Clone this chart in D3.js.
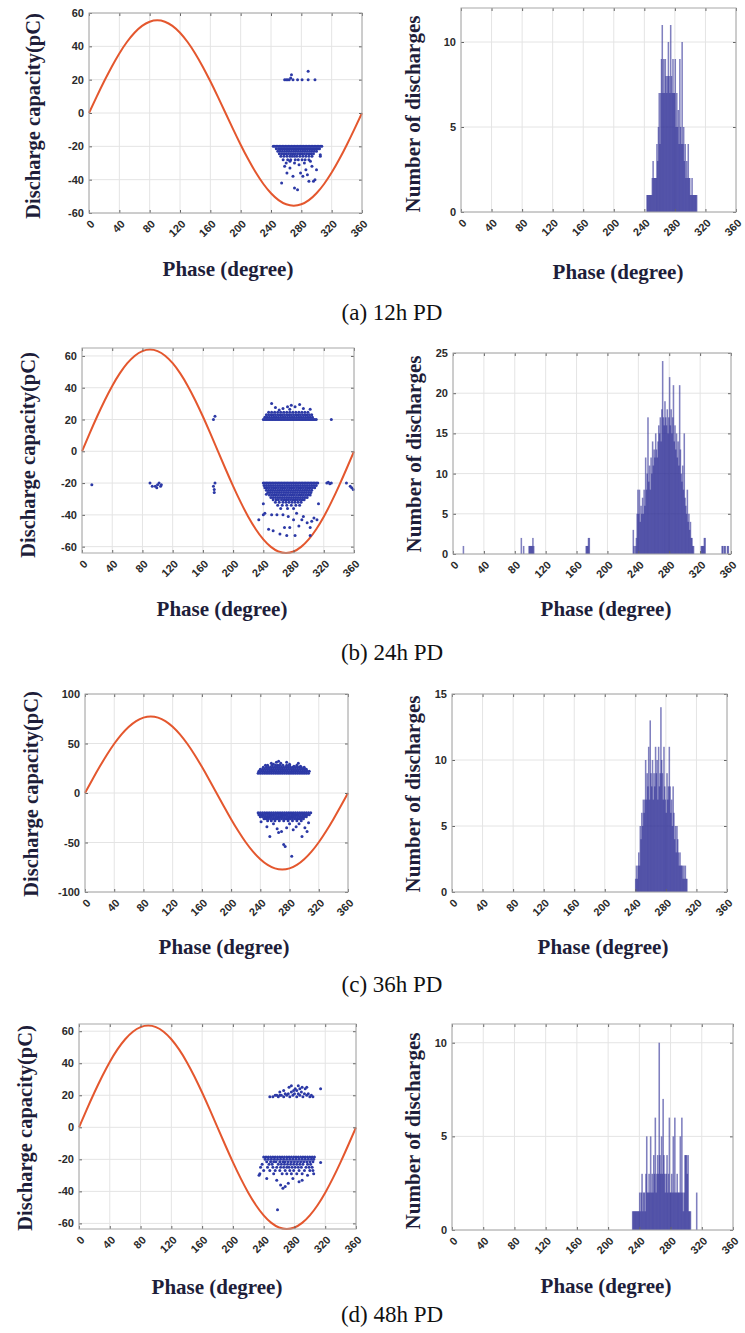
<!DOCTYPE html>
<html>
<head>
<meta charset="utf-8">
<script src="https://cdn.jsdelivr.net/npm/d3@7"></script>
<style>
body { margin: 0; background: #fff; }
</style>
</head>
<body>
<div id="fig"></div>
<script>
// ---------- data ----------
var phaseTicks = [0, 40, 80, 120, 160, 200, 240, 280, 320, 360];
var captions = ['(a) 12h PD', '(b) 24h PD', '(c) 36h PD', '(d) 48h PD'];

// supply voltage waveform, read every 10 degrees (unit amplitude)
var wavePhase = [0,10,20,30,40,50,60,70,80,90,100,110,120,130,140,150,160,170,180,
                 190,200,210,220,230,240,250,260,270,280,290,300,310,320,330,340,350,360];
var waveUnit = [0,0.174,0.342,0.5,0.643,0.766,0.866,0.94,0.985,1,0.985,0.94,0.866,0.766,0.643,0.5,0.342,0.174,0,
                -0.174,-0.342,-0.5,-0.643,-0.766,-0.866,-0.94,-0.985,-1,-0.985,-0.94,-0.866,-0.766,-0.643,-0.5,-0.342,-0.174,0];
var waveAmp = [55.6, 64, 77.3, 63.5];

var qDomain = [[-60, 60], [-64, 65], [-100, 100], [-63.5, 64.5]];
var qTicks = [[-60,-40,-20,0,20,40,60], [-60,-40,-20,0,20,40,60], [-100,-50,0,50,100], [-60,-40,-20,0,20,40,60]];
var countMax = [12, 25, 15, 11];
var countTicks = [[0,5,10], [0,5,10,15,20,25], [0,5,10,15], [0,5,10]];

// dense rows of discharges: [pC, phases]
var bandsA = [
  [-20, [243,245,247,249,251,253,255,257,259,261,263,265,267,269,271,273,275,277,279,281,283,285,287,289,291,293,295,297,299,301,303,305,307]],
  [-21.5, [247,250,252,254,256,258,260,262,264,266,268,270,272,274,276,278,280,282,284,286,288,290,292,294,296,298,300,302,304]],
  [-23, [249,252,255,258,261,264,267,270,273,276,279,282,285,288,291,294,297,300]],
  [-24.5, [251,254,257,260,263,266,269,272,275,278,281,284,287,290,293,296]],
  [-26, [253,257,261,265,268,271,274,278,282,286,290,294,305]],
  [-28, [256,262,266,272,276,281,285,290]]
];
var dotsA = [[258,20],[260,20],[262,20],[264,20],[266,21],[267,23],[269,20],[275,20],[281,20],[289,20],[289,25],[298,20],
  [254,-42],[258,-32],[261,-36],[265,-33],[269,-38],[271,-45],[275,-46],[271,-30],[277,-31],[279,-36],[282,-38],[286,-34],
  [288,-37],[290,-41],[296,-41],[298,-40],[300,-34],[294,-32],[305,-25],[265,-29],[260,-30],[284,-30],[292,-29]];

var bandsB = [
  [20, [240,242,244,246,248,250,252,254,256,258,260,262,264,266,268,270,272,274,276,278,280,282,284,286,288,290,292,294,296,298,300,302,304,306,308,310]],
  [21.5, [242,245,248,251,254,257,260,263,266,269,272,275,278,281,284,287,290,293,296,299,302,305]],
  [23, [244,247,250,253,256,259,262,265,268,271,274,277,280,283,286,289,292,295,298,301,304]],
  [24.5, [247,251,255,259,263,267,271,275,279,283,287,291,295,299]],
  [-20, [240,242,244,246,248,250,252,254,256,258,260,262,264,266,268,270,272,274,276,278,280,282,284,286,288,290,292,294,296,298,300,302,304,306,308,310,312]],
  [-21.5, [241,244,247,250,253,256,259,262,265,268,271,274,277,280,283,286,289,292,295,298,301,304,307,310]],
  [-23, [242,245,248,251,254,257,260,263,266,269,272,275,278,281,284,287,290,293,296,299,302,305,308]],
  [-24.5, [244,247,250,253,256,259,262,265,268,271,274,277,280,283,286,289,292,295,298,301,304]],
  [-26, [246,249,252,255,258,261,264,267,270,273,276,279,282,285,288,291,294,297,300,303]],
  [-27.5, [248,251,254,257,260,263,266,269,272,275,278,281,284,287,290,293,296,299,302]],
  [-29, [250,253,256,259,262,265,268,271,274,277,280,283,286,289,292,295,298]],
  [-30.5, [253,257,260,264,267,270,273,276,279,282,285,288,291,294]],
  [-32, [256,261,266,270,274,278,282,286,290]],
  [-34, [259,265,271,277,283,288]],
  [-36, [263,272,280]]
];
var dotsB = [[251,30],[256,27.5],[272,28],[277,29],[282,28],[288,29.5],[302,26.5],[275,26.5],[261,26],[266,27],[293,27],
  [330,20],[174,20],[176,22],
  [234,-43],[240,-33],[240,-40],[242,-39],[244,-27],[247,-49],[251,-40],[253,-50],[258,-40],[262,-52],[266,-40],[268,-48],
  [271,-53],[273,-41],[275,-48],[280,-43],[282,-53],[284,-39],[287,-47],[291,-43],[293,-41],[298,-45],[302,-48],[302,-53],
  [304,-44],[307,-42],[311,-43],[313,-33],
  [13,-21],[90,-20],[93,-22],[97,-22],[99,-23],[100,-21],[102,-20],[104,-22],[105,-21],
  [174,-22],[175,-24],[176,-20],[175,-26],[324,-20],[326,-19.5],[328,-20.5],[330,-20],
  [350,-20],[355,-22],[357,-23],[359,-24]];

var bandsC = [
  [20, [237,240,243,246,249,252,255,258,261,264,267,270,273,276,279,282,285,288,291,294,297,300,303,306]],
  [22, [238,241,244,247,250,253,256,259,262,265,268,271,274,277,280,283,286,289,292,295,298,301,304,307]],
  [24, [240,243,246,249,252,255,258,261,264,267,270,273,276,279,282,285,288,291,294,297,300,303]],
  [26, [244,248,251,254,257,260,263,266,269,272,275,278,281,284,287,290,293,296,300]],
  [28, [250,256,261,264,267,271,276,280,290]],
  [-20, [237,240,243,246,249,252,255,258,261,264,267,270,273,276,279,282,285,288,291,294,297,300,303,306,309]],
  [-22, [238,241,244,247,250,253,256,259,262,265,268,271,274,277,280,283,286,289,292,295,298,301,304,307]],
  [-24, [240,243,246,249,252,255,258,261,264,267,270,273,276,279,282,285,288,291,294,297,300,303]],
  [-26, [245,248,251,254,257,260,263,266,269,272,275,278,281,284,287,290,293,296,299]],
  [-28, [250,255,260,266,272,278,284,290,296]]
];
var dotsC = [[247,28],[255,30],[258,29],[262,31],[265,32],[268,30],[276,31],[280,29],[286,27],[292,30],[295,27],[300,25],
  [241,-29],[249,-34],[253,-44],[263,-36],[265,-40],[269,-39],[272,-52],[274,-54],[276,-35],[283,-64],[285,-37],[289,-34],
  [297,-44],[301,-35],[304,-39],[306,-30],[258,-31],[280,-31],[293,-31]];

var bandsD = [
  [-18.5, [240,243,246,249,252,255,258,261,264,267,270,273,276,279,282,285,288,291,294,297,300,303,306]],
  [-20, [242,246,250,254,258,262,266,270,274,278,282,286,290,294,298,302,305]],
  [-21.5, [244,249,253,256,261,265,268,272,276,280,284,288,292,296,300,304]],
  [-23, [238,247,251,259,263,267,271,275,279,283,287,291,297,301]],
  [-25, [236,245,252,257,262,266,270,273,277,281,285,289,295,299,303]],
  [-27, [240,248,255,261,268,274,279,286,293,300,304]],
  [-29, [235,253,264,270,276,283,290,305]]
];
var dotsD = [[248,19],[252,19],[255,20],[259,19],[263,20],[266,19],[270,20],[274,19],[278,20],[283,19],[287,20],[291,19],
  [296,20],[300,19],[304,19],[257,20],[261,20],[268,21],[272,21],[276,22],[280,21],[285,21],[289,22],[293,21],[298,21],[302,20],
  [273,25],[276,26],[281,24],[285,26],[290,25],[294,24],[296,25],[266,23],[261,22],[279,23],[314,24],[283,23],[287,24],
  [234,-30],[244,-32],[257,-33],[268,-37],[272,-35],[278,-32],[290,-33],[258,-51.5],[265,-38],[262,-36],[286,-34],
  [314,-22],[297,-30]];

// number of discharges per 1-degree phase bin: [phase, count]
var histA = [[243,1],[244,1],[245,1],[246,1],[247,1],[248,1],[249,1],[250,2],[251,3],[252,2],[253,2],[254,2],[255,2],
  [256,4],[257,3],[258,5],[259,7],[260,4],[261,7],[262,9],[263,11],[264,7],[265,9],[266,7],[267,9],[268,8],[269,7],[270,8],
  [271,10],[272,8],[273,7],[274,11],[275,8],[276,7],[277,9],[278,7],[279,7],[280,9],[281,5],[282,7],[283,5],[284,6],[285,4],
  [286,9],[287,5],[288,4],[289,10],[290,4],[291,5],[292,3],[293,4],[294,2],[295,3],[296,2],[297,4],[298,2],[299,2],[300,1],
  [301,1],[302,2],[303,1],[304,1],[305,1],[306,1],[307,1],[308,1]];
var histB = [[13,1],[88,2],[91,1],[98,1],[99,1],[100,1],[101,1],[102,1],[103,2],[104,1],[172,1],[173,1],[174,1],[175,2],[176,2],
  [233,3],[234,1],[236,1],[237,2],[238,5],[239,8],[240,5],[241,8],[242,4],[243,6],[244,5],[245,7],[246,5],[247,8],[248,6],
  [249,12],[250,8],[251,10],[252,17],[253,9],[254,11],[255,8],[256,12],[257,10],[258,14],[259,11],[260,13],[261,12],[262,15],
  [263,13],[264,12],[265,14],[266,16],[267,15],[268,17],[269,14],[270,18],[271,24],[272,17],[273,16],[274,19],[275,17],
  [276,16],[277,18],[278,15],[279,17],[280,22],[281,16],[282,18],[283,15],[284,17],[285,21],[286,14],[287,16],[288,13],
  [289,15],[290,12],[291,14],[292,11],[293,21],[294,13],[295,10],[296,9],[297,11],[298,8],[299,15],[300,7],[301,6],[302,5],
  [303,8],[304,4],[305,5],[306,3],[307,4],[308,2],[309,2],[310,1],[311,1],
  [321,1],[322,1],[323,1],[324,1],[325,2],[326,2],[348,1],[349,1],[351,1],[352,1],[355,1],[356,1]];
var histC = [[240,1],[241,2],[242,1],[243,2],[244,3],[245,2],[246,5],[247,4],[248,6],[249,5],[250,7],[251,6],[252,7],
  [253,10],[254,7],[255,9],[256,8],[257,11],[258,7],[259,13],[260,9],[261,8],[262,10],[263,7],[264,9],[265,8],[266,11],
  [267,9],[268,10],[269,7],[270,11],[271,8],[272,9],[273,14],[274,10],[275,9],[276,7],[277,11],[278,8],[279,7],[280,6],
  [281,9],[282,7],[283,8],[284,11],[285,8],[286,6],[287,7],[288,5],[289,8],[290,6],[291,4],[292,5],[293,3],[294,5],[295,4],
  [296,3],[297,2],[298,3],[299,2],[300,2],[301,2],[302,1],[303,2],[304,1],[305,2],[306,1],[307,1]];
var histD = [[231,1],[232,1],[233,1],[234,1],[235,1],[236,1],[237,1],[238,1],[239,1],[240,2],[241,1],[242,2],[243,3],
  [244,1],[245,2],[246,2],[247,1],[248,3],[249,5],[250,2],[251,2],[252,3],[253,2],[254,5],[255,2],[256,3],[257,2],[258,4],
  [259,3],[260,6],[261,2],[262,3],[263,4],[264,3],[265,10],[266,4],[267,3],[268,5],[269,3],[270,7],[271,4],[272,3],[273,2],
  [274,3],[275,4],[276,2],[277,3],[278,6],[279,2],[280,2],[281,3],[282,2],[283,5],[284,2],[285,6],[286,2],[287,2],[288,3],
  [289,2],[290,2],[291,2],[292,5],[293,2],[294,6],[295,2],[296,1],[297,2],[298,4],[299,4],[300,4],[301,3],[302,4],[303,1],
  [304,1],[305,1],[313,2]];

var bands = [bandsA, bandsB, bandsC, bandsD];
var dots = [dotsA, dotsB, dotsC, dotsD];
var hists = [histA, histB, histC, histD];

// ---------- layout (pixel boxes [x0, y0, x1, y1]) ----------
var layout = [
  {L: [89, 13, 362, 213],   R: [461, 8, 736, 212],    lt: [40, 116],  rt: [420, 114],  lx: [228, 276],  rx: [618, 279],  cap: 320},
  {L: [82, 348, 354, 553],  R: [453, 353, 731, 554],  lt: [35, 455],  rt: [421, 454],  lx: [222, 616],  rx: [606, 616],  cap: 660},
  {L: [85, 694, 348, 892],  R: [452, 694, 727, 892],  lt: [38, 794],  rt: [420, 794],  lx: [224, 954],  rx: [603, 954],  cap: 992},
  {L: [79, 1024, 356, 1229], R: [452, 1024, 733, 1230], lt: [32, 1128], rt: [420, 1131], lx: [217, 1294], rx: [606, 1293], cap: 1322}
];

var width = 745, height = 1333;
var serif = '"Liberation Serif", "Times New Roman", serif';
var sans = '"Liberation Sans", Arial, sans-serif';
var dotColor = '#2c39a6';
var barColor = '#2b2b94';
var waveColor = '#e4572e';

var svg = d3.select('#fig')
  .append('svg')
  .attr('width', width)
  .attr('height', height)
  .style('background', '#fff');

function grid(g, x, y, w, h, yT) {
  g.append('g').selectAll('line').data(phaseTicks).join('line')
    .attr('x1', d => x(d)).attr('x2', d => x(d))
    .attr('y1', 0).attr('y2', h)
    .attr('stroke', '#e4e4e4');
  g.append('g').selectAll('line').data(yT).join('line')
    .attr('x1', 0).attr('x2', w)
    .attr('y1', d => y(d)).attr('y2', d => y(d))
    .attr('stroke', '#e4e4e4');
}

function frame(g, x, y, w, h, yT) {
  var fmt = d => String(d);
  var xb = g.append('g')
    .attr('transform', `translate(0,${h})`)
    .call(d3.axisBottom(x).tickValues(phaseTicks).tickSizeInner(-3).tickSizeOuter(0).tickFormat(fmt));
  xb.selectAll('text')
    .attr('x', 3).attr('y', 9).attr('dy', '0.35em')
    .attr('transform', 'rotate(-45,3,9)')
    .style('text-anchor', 'end');
  g.append('g')
    .call(d3.axisTop(x).tickValues(phaseTicks).tickSizeInner(-3).tickSizeOuter(0).tickFormat(''));
  g.append('g')
    .call(d3.axisLeft(y).tickValues(yT).tickSizeInner(-3).tickSizeOuter(0).tickPadding(5).tickFormat(fmt));
  g.append('g')
    .attr('transform', `translate(${w},0)`)
    .call(d3.axisRight(y).tickValues(yT).tickSizeInner(-3).tickSizeOuter(0).tickFormat(''));
  g.selectAll('.domain').remove();
  g.selectAll('.tick line').attr('stroke', '#666');
  g.selectAll('.tick text')
    .attr('fill', '#2a2a2a')
    .style('font-family', sans)
    .style('font-size', '11px')
    .style('font-weight', 'bold');
  g.append('rect')
    .attr('width', w).attr('height', h)
    .attr('fill', 'none')
    .attr('stroke', '#a8a8a8');
}

function title(x, y, text, size, rotate) {
  svg.append('text')
    .attr('transform', `translate(${x},${y})` + (rotate ? ' rotate(-90)' : ''))
    .attr('text-anchor', 'middle')
    .style('font-family', serif)
    .style('font-size', size + 'px')
    .style('font-weight', 'bold')
    .attr('fill', '#1e1e3a')
    .text(text);
}

layout.forEach(function(lay, i) {
  // ---- left: phase-resolved scatter ----
  var b = lay.L, w = b[2] - b[0], h = b[3] - b[1];
  var x = d3.scaleLinear().domain([0, 360]).range([0, w]);
  var y = d3.scaleLinear().domain(qDomain[i]).range([h, 0]);
  var g = svg.append('g').attr('transform', `translate(${b[0]},${b[1]})`);
  grid(g, x, y, w, h, qTicks[i]);

  var wave = wavePhase.map((p, k) => [p, waveUnit[k] * waveAmp[i]]);
  g.append('path')
    .datum(wave)
    .attr('fill', 'none')
    .attr('stroke', waveColor)
    .attr('stroke-width', 2)
    .attr('d', d3.line().x(d => x(d[0])).y(d => y(d[1])).curve(d3.curveNatural));

  var pts = [];
  bands[i].forEach(function(row) {
    row[1].forEach(function(p) { pts.push([p, row[0]]); });
  });
  pts = pts.concat(dots[i]);
  g.append('g').selectAll('circle').data(pts).join('circle')
    .attr('cx', d => x(d[0]))
    .attr('cy', d => y(d[1]))
    .attr('r', 1.5)
    .attr('fill', dotColor);

  frame(g, x, y, w, h, qTicks[i]);
  title(lay.lt[0], lay.lt[1], 'Discharge capacity(pC)', 20.5, true);
  title(lay.lx[0], lay.lx[1], 'Phase (degree)', 21, false);

  // ---- right: histogram of discharges per phase ----
  var r = lay.R, rw = r[2] - r[0], rh = r[3] - r[1];
  var xr = d3.scaleLinear().domain([0, 360]).range([0, rw]);
  var yr = d3.scaleLinear().domain([0, countMax[i]]).range([rh, 0]);
  var gr = svg.append('g').attr('transform', `translate(${r[0]},${r[1]})`);
  grid(gr, xr, yr, rw, rh, countTicks[i]);
  gr.append('g').selectAll('rect').data(hists[i]).join('rect')
    .attr('x', d => xr(d[0] - 0.5))
    .attr('width', xr(2) - xr(0))
    .attr('y', d => yr(d[1]))
    .attr('height', d => rh - yr(d[1]))
    .attr('fill', barColor)
    .attr('fill-opacity', 0.6);
  frame(gr, xr, yr, rw, rh, countTicks[i]);
  title(lay.rt[0], lay.rt[1], 'Number of discharges', 21, true);
  title(lay.rx[0], lay.rx[1], 'Phase (degree)', 21, false);

  // ---- caption ----
  svg.append('text')
    .attr('x', 392)
    .attr('y', lay.cap)
    .attr('text-anchor', 'middle')
    .style('font-family', serif)
    .style('font-size', '23px')
    .attr('fill', '#111')
    .text(captions[i]);
});
</script>
</body>
</html>
